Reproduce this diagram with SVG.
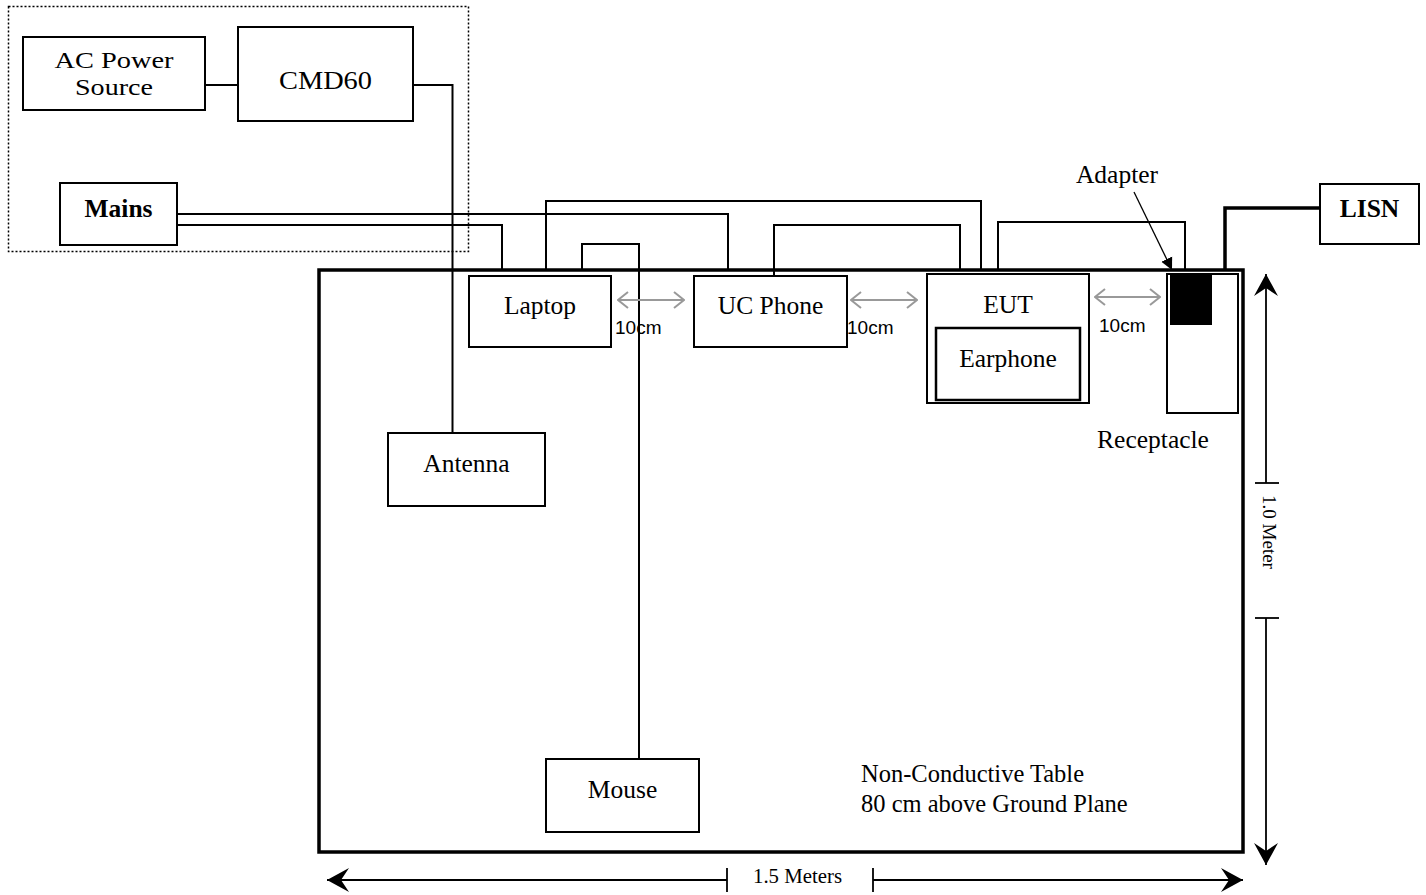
<svg xmlns="http://www.w3.org/2000/svg" width="1426" height="895" viewBox="0 0 1426 895">
<defs>
<style>
.box{fill:#fff;stroke:#000;stroke-width:2}
.t{font-family:"Liberation Serif","Times New Roman",serif;font-size:25.5px;fill:#000;text-anchor:middle}
.tb{font-family:"Liberation Serif","Times New Roman",serif;font-size:25.5px;font-weight:bold;fill:#000;text-anchor:middle}
.tl{font-family:"Liberation Serif","Times New Roman",serif;font-size:26px;fill:#000;text-anchor:middle}
.cm{font-family:"Liberation Sans",Arial,sans-serif;font-size:19px;fill:#000}
.w{fill:none;stroke:#000;stroke-width:2}
.g{fill:none;stroke:#999;stroke-width:2}
.dim{fill:none;stroke:#000;stroke-width:1.8}
</style>
<marker id="bh" viewBox="0 0 24 24" refX="22" refY="12" markerWidth="24" markerHeight="24" markerUnits="userSpaceOnUse" orient="auto-start-reverse">
<path d="M22,12 L0,0 L8,12 L0,24 Z" fill="#000"/>
</marker>
<marker id="gh" viewBox="0 0 12 18" refX="11" refY="9" markerWidth="12" markerHeight="18" markerUnits="userSpaceOnUse" orient="auto-start-reverse">
<path d="M1,1 L11,9 L1,17" fill="none" stroke="#999" stroke-width="2"/>
</marker>
<marker id="ah" viewBox="0 0 12 16" refX="12" refY="8" markerWidth="12" markerHeight="16" markerUnits="userSpaceOnUse" orient="auto">
<path d="M0,2 L12,8 L0,14 Z" fill="#000"/>
</marker>
</defs>
<rect width="1426" height="895" fill="#fff"/>

<rect id="lab-area" x="8.5" y="6.5" width="460" height="245" fill="none" stroke="#000" stroke-width="1.5" stroke-dasharray="2,2"/>

<g id="table">
<rect x="319" y="270" width="924" height="582" fill="none" stroke="#000" stroke-width="3.5"/>
<text class="t" x="861" y="782" style="text-anchor:start;font-size:24.5px">Non-Conductive Table</text>
<text class="t" x="861" y="812" style="text-anchor:start;font-size:24.5px">80 cm above Ground Plane</text>
</g>

<g id="connectors">
<path class="w" d="M205,85 H238"/>
<path class="w" d="M413,85 H452.5 V433"/>
<path class="w" d="M177,214 H728 V270"/>
<path class="w" d="M177,225 H502 V270"/>
<path class="w" d="M546,270 V201 H981 V270"/>
<path class="w" d="M582,270 V244 H639 V759"/>
<path class="w" d="M774,276 V225 H960 V270"/>
<path class="w" d="M998,270 V222 H1185 V270"/>
<path d="M1320,208 H1225 V270" fill="none" stroke="#000" stroke-width="3.5"/>
<line x1="1134" y1="192" x2="1172" y2="270" stroke="#000" stroke-width="1.3" marker-end="url(#ah)"/>
<line class="g" x1="618" y1="300" x2="684" y2="300" marker-start="url(#gh)" marker-end="url(#gh)"/>
<line class="g" x1="851" y1="300" x2="917" y2="300" marker-start="url(#gh)" marker-end="url(#gh)"/>
<line class="g" x1="1095" y1="297" x2="1160" y2="297" marker-start="url(#gh)" marker-end="url(#gh)"/>
</g>

<g id="ac-power-source"><rect class="box" x="23" y="37" width="182" height="73"/><text class="tl" x="114" y="68" style="font-size:24px" textLength="119" lengthAdjust="spacingAndGlyphs">AC Power</text><text class="tl" x="114" y="95" style="font-size:24px" textLength="78" lengthAdjust="spacingAndGlyphs">Source</text></g>
<g id="cmd60"><rect class="box" x="238" y="27" width="175" height="94"/><text class="tl" x="325.5" y="89" textLength="93" lengthAdjust="spacingAndGlyphs">CMD60</text></g>
<g id="mains"><rect class="box" x="60" y="183" width="117" height="62"/><text class="tb" x="118.5" y="217">Mains</text></g>
<g id="lisn"><rect class="box" x="1320" y="184" width="99" height="60"/><text class="tb" x="1369.5" y="217">LISN</text></g>

<g id="laptop"><rect class="box" x="469" y="276" width="142" height="71"/><text class="t" x="540" y="314">Laptop</text></g>
<g id="uc-phone"><rect class="box" x="694" y="276" width="153" height="71"/><text class="t" x="770.5" y="314">UC Phone</text></g>
<g id="eut"><rect class="box" x="927" y="274" width="162" height="129"/><text class="t" x="1008" y="313">EUT</text></g>
<g id="earphone"><rect x="936" y="328" width="144" height="72" fill="#fff" stroke="#000" stroke-width="2.5"/><text class="t" x="1008" y="367">Earphone</text></g>
<g id="receptacle"><rect class="box" x="1167" y="274" width="71" height="139"/><text class="t" x="1153" y="448">Receptacle</text></g>
<g id="adapter"><rect x="1170" y="273" width="42" height="52" fill="#000"/><text class="t" x="1117" y="183">Adapter</text></g>
<g id="antenna"><rect class="box" x="388" y="433" width="157" height="73"/><text class="t" x="466.5" y="472">Antenna</text></g>
<g id="mouse"><rect class="box" x="546" y="759" width="153" height="73"/><text class="t" x="622.5" y="798">Mouse</text></g>

<g id="spacing-labels">
<text class="cm" x="615" y="334">10cm</text>
<text class="cm" x="847" y="334">10cm</text>
<text class="cm" x="1099" y="332">10cm</text>
</g>

<g id="dimensions">
<line class="dim" x1="1266" y1="274" x2="1266" y2="483" marker-start="url(#bh)"/>
<line class="dim" x1="1255" y1="483" x2="1279" y2="483"/>
<line class="dim" x1="1266" y1="618" x2="1266" y2="865" marker-end="url(#bh)"/>
<line class="dim" x1="1255" y1="618" x2="1279" y2="618"/>
<text class="t" transform="translate(1263,532) rotate(90)" x="0" y="0" style="font-size:19px">1.0 Meter</text>
<line class="dim" x1="327" y1="880" x2="727" y2="880" marker-start="url(#bh)"/>
<line class="dim" x1="727" y1="868" x2="727" y2="892"/>
<line class="dim" x1="873" y1="880" x2="1243" y2="880" marker-end="url(#bh)"/>
<line class="dim" x1="873" y1="868" x2="873" y2="892"/>
<text class="t" x="797.5" y="883" style="font-size:20px" textLength="89" lengthAdjust="spacingAndGlyphs">1.5 Meters</text>
</g>
</svg>
